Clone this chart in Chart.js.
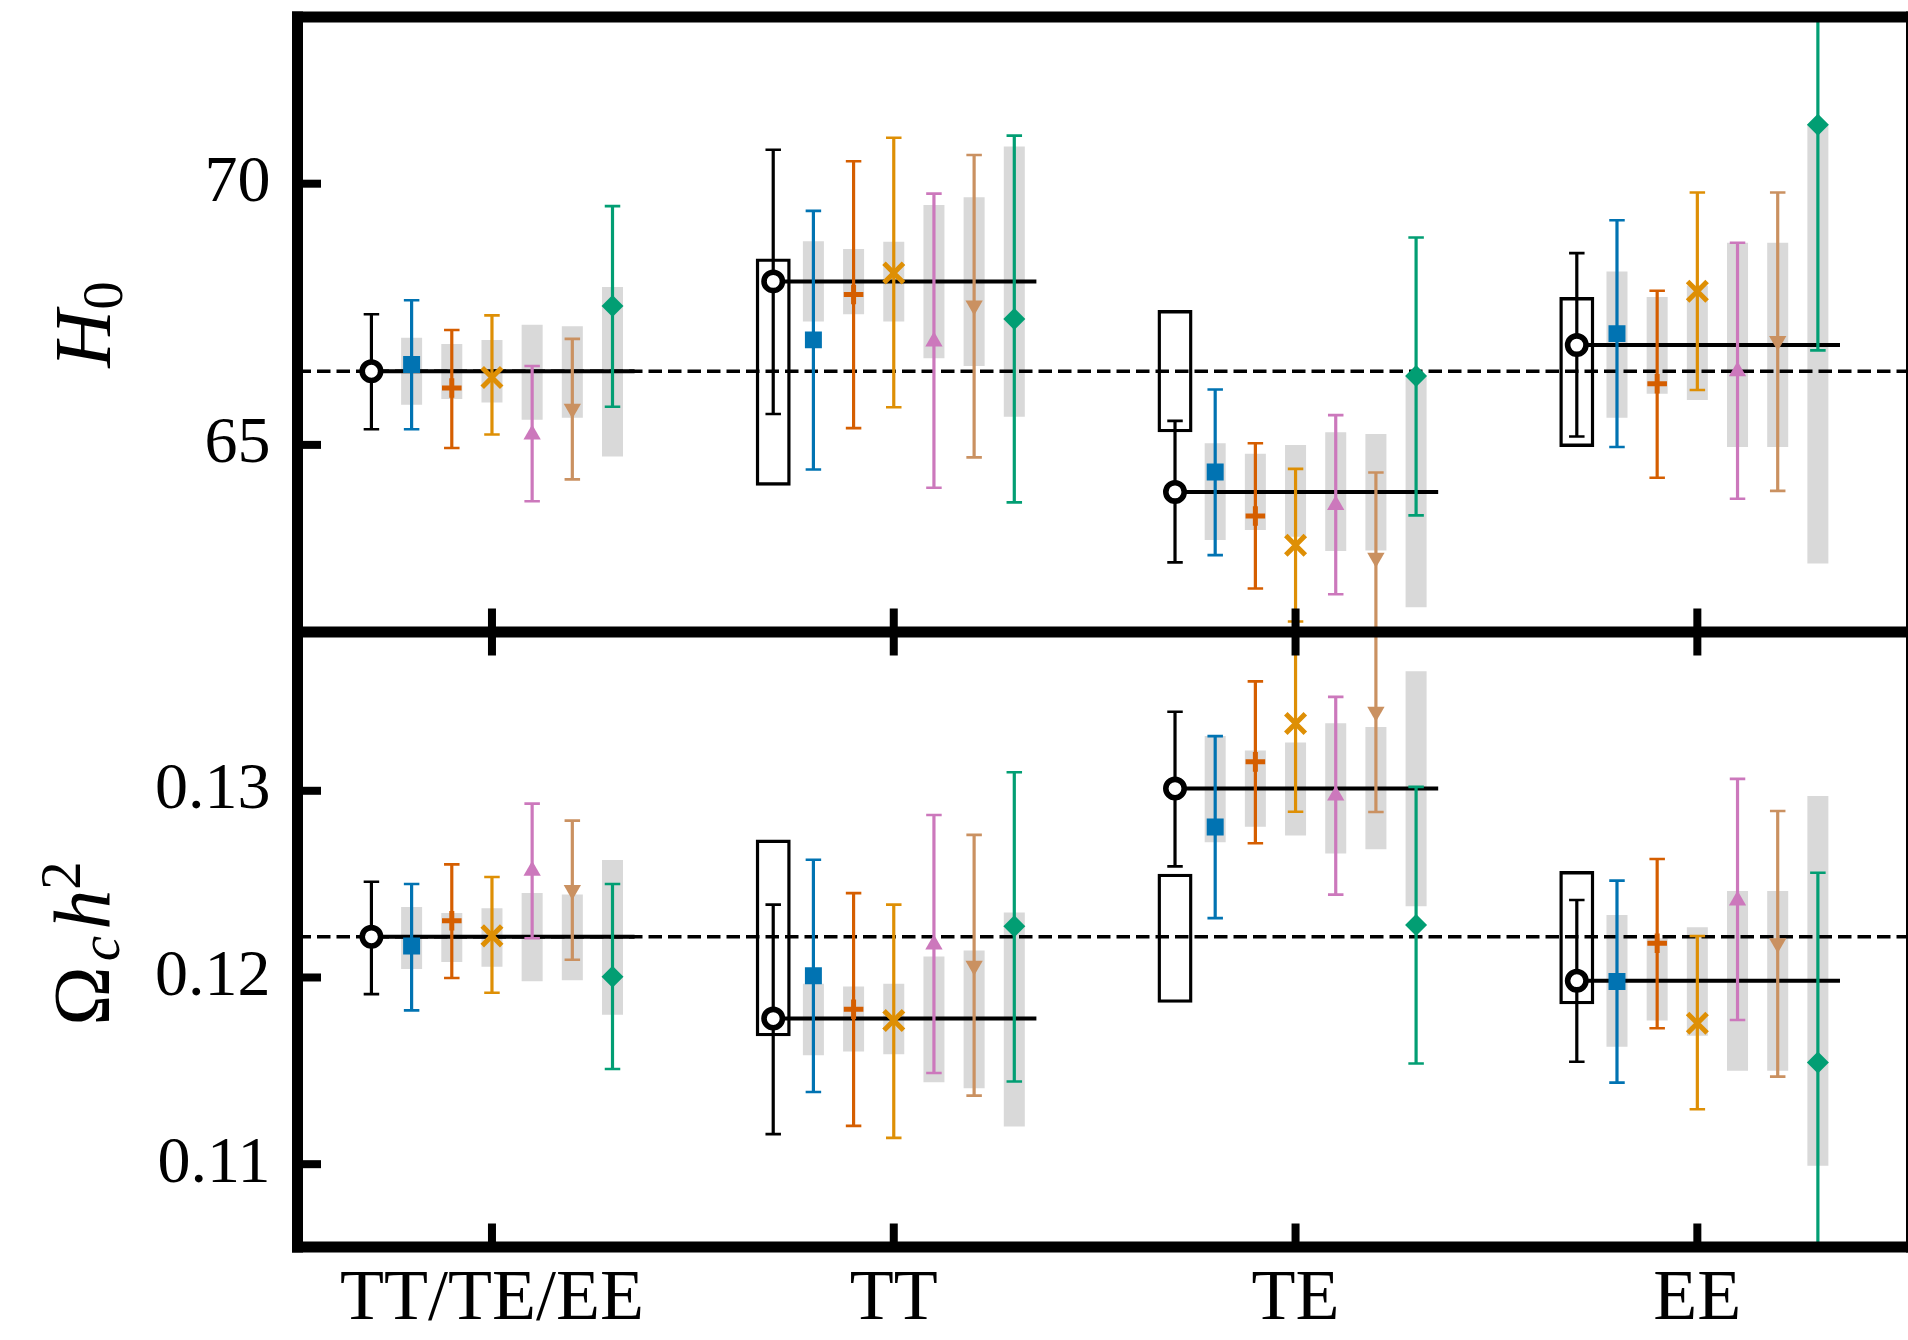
<!DOCTYPE html>
<html>
<head>
<meta charset="utf-8">
<style>
  html, body { margin: 0; padding: 0; overflow: hidden; background: #ffffff; }
  #plot { position: absolute; left: 0; top: 0; }
</style>
<script src="https://cdn.jsdelivr.net/npm/chart.js@4.4.1/dist/chart.umd.min.js"></script>
</head>
<body>
<canvas id="plot" width="1916" height="1340"></canvas>
<script>
// ---- categories and x placement ----
const groups = ['TT/TE/EE', 'TT', 'TE', 'EE'];
const offsets = [-0.3, -0.2, -0.1, 0, 0.1, 0.2, 0.3];
const xRange = [-0.484, 3.533];

// ---- axis ranges and tick labels ----
const h0Ticks = [65, 70];
const h0Range = [61.418, 73.191];
const omegaTicks = [0.11, 0.12, 0.13];
const omegaRange = [0.105564, 0.138505];

// Rows: reference (open circle), square, plus, cross, up-triangle, down-triangle, diamond.
// Columns follow `groups`.
const h0Value = [
  [66.41, 68.13, 64.10, 66.91],
  [66.54, 67.01, 64.48, 67.13],
  [66.09, 67.88, 63.64, 66.17],
  [66.29, 68.29, 63.08, 67.94],
  [65.20, 66.98, 63.85, 66.41],
  [65.69, 67.67, 62.84, 66.99],
  [67.66, 67.41, 66.32, 71.13]
];
const h0ErrLo = [
  [65.30, 65.59, 62.75, 65.16],
  [65.30, 64.53, 62.89, 64.96],
  [64.94, 65.32, 62.25, 64.37],
  [65.20, 65.72, 61.62, 66.05],
  [63.92, 64.18, 62.14, 63.97],
  [64.34, 64.76, 60.60, 64.12],
  [65.73, 63.90, 63.65, 66.81]
];
const h0ErrHi = [
  [67.50, 70.65, 65.46, 68.67],
  [67.77, 69.48, 66.06, 69.30],
  [67.20, 70.43, 65.03, 67.95],
  [67.48, 70.88, 64.54, 69.83],
  [66.51, 69.81, 65.57, 68.87],
  [67.03, 70.55, 64.47, 69.83],
  [69.57, 70.92, 68.97, 73.80]
];
const h0BandLo = [
  null,
  [65.77, 67.36, 63.18, 65.52],
  [65.88, 67.50, 63.37, 65.98],
  [65.81, 67.36, 63.24, 65.86],
  [65.48, 66.66, 62.97, 64.96],
  [65.52, 66.51, 62.98, 64.96],
  [64.78, 65.54, 61.89, 62.73]
];
const h0BandHi = [
  null,
  [67.05, 68.90, 65.03, 68.32],
  [66.93, 68.75, 64.83, 67.83],
  [67.01, 68.89, 65.00, 68.05],
  [67.30, 69.59, 65.24, 68.87],
  [67.27, 69.74, 65.21, 68.87],
  [68.02, 70.71, 66.31, 71.13]
];
const h0BoxLo = [null, 64.22, 65.24, 64.96];
const h0BoxHi = [null, 68.57, 67.58, 67.83];

const omegaValue = [
  [0.12218, 0.11780, 0.13012, 0.11983],
  [0.12169, 0.12009, 0.12806, 0.11978],
  [0.12304, 0.11830, 0.13155, 0.12183],
  [0.12223, 0.11770, 0.13360, 0.11755],
  [0.12572, 0.12176, 0.12975, 0.12413],
  [0.12469, 0.12063, 0.13423, 0.12183],
  [0.12004, 0.12275, 0.12281, 0.11544]
];
const omegaErrLo = [
  [0.11911, 0.11161, 0.12595, 0.11549],
  [0.11824, 0.11387, 0.12318, 0.11437],
  [0.11997, 0.11205, 0.12719, 0.11728],
  [0.11918, 0.11141, 0.12888, 0.11294],
  [0.12210, 0.11488, 0.12444, 0.11772],
  [0.12095, 0.11367, 0.12886, 0.11469],
  [0.11510, 0.11443, 0.11539, 0.10400]
];
const omegaErrHi = [
  [0.12513, 0.12390, 0.13423, 0.12415],
  [0.12501, 0.12631, 0.13293, 0.12519],
  [0.12606, 0.12452, 0.13586, 0.12635],
  [0.12538, 0.12390, 0.13834, 0.12222],
  [0.12931, 0.12870, 0.13503, 0.13064],
  [0.12840, 0.12764, 0.14000, 0.12892],
  [0.12501, 0.13099, 0.13021, 0.12561]
];
const omegaBandLo = [
  null,
  [0.12046, 0.11583, 0.12725, 0.11629],
  [0.12083, 0.11603, 0.12807, 0.11769],
  [0.12058, 0.11589, 0.12760, 0.11688],
  [0.11980, 0.11439, 0.12664, 0.11501],
  [0.11985, 0.11407, 0.12687, 0.11501],
  [0.11800, 0.11202, 0.12381, 0.10992]
];
const omegaBandHi = [
  null,
  [0.12378, 0.11967, 0.13293, 0.12335],
  [0.12346, 0.11952, 0.13216, 0.12210],
  [0.12371, 0.11967, 0.13259, 0.12269],
  [0.12452, 0.12112, 0.13362, 0.12463],
  [0.12444, 0.12144, 0.13341, 0.12463],
  [0.12629, 0.12348, 0.13640, 0.12972]
];
const omegaBoxLo = [null, 0.11685, 0.11864, 0.11856];
const omegaBoxHi = [null, 0.12739, 0.12556, 0.12570];

// ---- styling ----
const seriesColors = ['#000000', '#0173b2', '#d55e00', '#de8f05', '#cc78bc', '#ca9161', '#029e73'];
const markerStyles = [
  { pointStyle: 'circle',   radius: 9.2,  borderWidth: 5.6, fill: '#ffffff' },
  { pointStyle: 'rect',     radius: 12,   borderWidth: 0 },
  { pointStyle: 'cross',    radius: 9.8,  borderWidth: 5 },
  { pointStyle: 'crossRot', radius: 13.8, borderWidth: 5 },
  { pointStyle: 'triangle', radius: 10,   borderWidth: 0 },
  { pointStyle: 'triangle', radius: 10,   borderWidth: 0, rotation: 180 },
  { pointStyle: 'rectRot',  radius: 11,   borderWidth: 0 }
];
const SERIF = 'Liberation Serif';
const BAND_GREY = '#d9d9d9';
const SPINE = 11;
const TICK_LEN = 23.5;
const TICK_W = 8;

function buildPanel(axisID, value, errLo, errHi, bandLo, bandHi, boxLo, boxHi) {
  const sets = [];

  // grey bands behind each non-reference estimate
  const bands = [];
  for (let s = 1; s < value.length; s++) {
    groups.forEach((_, g) => {
      bands.push({ x: g + offsets[s], y: [bandLo[s][g], bandHi[s][g]] });
    });
  }
  sets.push({
    type: 'bar', yAxisID: axisID, data: bands, backgroundColor: BAND_GREY,
    borderWidth: 0, barThickness: 21, grouped: false, inflateAmount: 0, order: 50, clip: 0
  });

  // open boxes around the reference estimate
  const boxes = [];
  groups.forEach((_, g) => {
    if (boxLo[g] !== null) boxes.push({ x: g + offsets[0], y: [boxLo[g], boxHi[g]] });
  });
  sets.push({
    type: 'bar', yAxisID: axisID, data: boxes, backgroundColor: 'rgba(0,0,0,0)',
    borderColor: '#000000', borderWidth: 3.4, borderSkipped: false, barThickness: 35,
    grouped: false, inflateAmount: 0, order: 45, clip: 0
  });

  // dashed baseline across the full panel
  sets.push({
    type: 'line', yAxisID: axisID,
    data: [{ x: xRange[0], y: value[0][0] }, { x: xRange[1], y: value[0][0] }],
    borderColor: '#000000', borderWidth: 3.6, borderDash: [13.5, 6],
    pointRadius: 0, showLine: true, order: 40, clip: 0
  });

  // solid reference level inside each group
  const refLine = [];
  groups.forEach((_, g) => {
    refLine.push({ x: g + offsets[0], y: value[0][g] }, { x: g + 0.355, y: value[0][g] }, { x: g + 0.355, y: null });
  });
  sets.push({
    type: 'line', yAxisID: axisID, data: refLine, borderColor: '#000000', borderWidth: 4,
    pointRadius: 0, showLine: true, spanGaps: false, order: 35, clip: 0
  });

  // error bars with caps
  for (let s = 0; s < value.length; s++) {
    const pts = [];
    groups.forEach((_, g) => {
      const x = g + offsets[s];
      pts.push({ x, y: errLo[s][g] }, { x, y: errHi[s][g] }, { x, y: null });
    });
    sets.push({
      type: 'line', yAxisID: axisID, data: pts, borderColor: seriesColors[s], borderWidth: 3.2,
      pointStyle: 'line', pointRadius: 7.75, pointBorderWidth: 2.6,
      pointBorderColor: seriesColors[s], pointBackgroundColor: seriesColors[s],
      showLine: true, spanGaps: false, order: 20, clip: 0
    });
  }

  // central estimates
  for (let s = 0; s < value.length; s++) {
    const m = markerStyles[s];
    sets.push({
      type: 'line', yAxisID: axisID, showLine: false,
      data: groups.map((_, g) => ({ x: g + offsets[s], y: value[s][g] })),
      pointStyle: m.pointStyle, pointRadius: m.radius, pointBorderWidth: m.borderWidth,
      pointRotation: m.rotation || 0,
      pointBackgroundColor: m.fill || seriesColors[s], pointBorderColor: seriesColors[s],
      order: 10 - s * 0.1, clip: 0
    });
  }
  return sets;
}

// spines and inward tick marks
const framePlugin = {
  id: 'frame',
  afterDatasetsDraw(chart) {
    const ctx = chart.ctx;
    const xs = chart.scales.x, yH = chart.scales.yH, yW = chart.scales.yW;
    const left = xs.left, right = xs.right;
    const top = yH.top, mid = yH.bottom, bot = yW.bottom;
    const h = SPINE / 2;
    ctx.save();
    ctx.fillStyle = '#000000';
    [top, mid, bot].forEach(y => ctx.fillRect(left - h, y - h, right - left + SPINE, SPINE));
    [left, right].forEach(x => ctx.fillRect(x - h, top - h, SPINE, bot - top + SPINE));
    xs.ticks.forEach(t => {
      const px = xs.getPixelForValue(t.value);
      ctx.fillRect(px - TICK_W / 2, mid - TICK_LEN, TICK_W, TICK_LEN);
      ctx.fillRect(px - TICK_W / 2, mid, TICK_W, TICK_LEN);
      ctx.fillRect(px - TICK_W / 2, bot - TICK_LEN, TICK_W, TICK_LEN);
    });
    [yH, yW].forEach(sc => sc.ticks.forEach(t => {
      const py = sc.getPixelForValue(t.value);
      ctx.fillRect(left, py - TICK_W / 2, TICK_LEN, TICK_W);
    }));
    ctx.restore();
  }
};

// rotated y-axis titles with sub/superscripts
function drawRotatedTitle(ctx, baselineX, centerY, parts) {
  ctx.save();
  let total = 0;
  parts.forEach(p => {
    ctx.font = p.font;
    p.w = ctx.measureText(p.text).width;
    total += p.w + (p.gap || 0);
  });
  ctx.translate(baselineX, centerY);
  ctx.rotate(-Math.PI / 2);
  ctx.fillStyle = '#000000';
  ctx.textAlign = 'left';
  ctx.textBaseline = 'alphabetic';
  let x = -total / 2;
  parts.forEach(p => {
    x += p.gap || 0;
    ctx.font = p.font;
    ctx.fillText(p.text, x, p.dy);
    x += p.w;
  });
  ctx.restore();
}
const titlePlugin = {
  id: 'axisTitles',
  afterDraw(chart) {
    const ctx = chart.ctx;
    const yH = chart.scales.yH, yW = chart.scales.yW;
    drawRotatedTitle(ctx, 110, (yH.top + yH.bottom) / 2, [
      { text: 'H', font: `italic 80px "${SERIF}"`, dy: 0 },
      { text: '0', font: `57px "${SERIF}"`, dy: 12 }
    ]);
    drawRotatedTitle(ctx, 109, (yW.top + yW.bottom) / 2 + 4, [
      { text: 'Ω', font: `80px "${SERIF}"`, dy: 0 },
      { text: 'c', font: `italic 57px "${SERIF}"`, dy: 10, gap: 5 },
      { text: 'h', font: `italic 80px "${SERIF}"`, dy: 0, gap: 6 },
      { text: '2', font: `57px "${SERIF}"`, dy: -29 }
    ]);
  }
};

// keep the plot frame exactly where the layout padding puts it
function noScalePadding(sc) {
  sc.paddingTop = 0; sc.paddingBottom = 0; sc.paddingLeft = 0; sc.paddingRight = 0;
}

Chart.defaults.color = '#000000';
Chart.defaults.font.family = SERIF;

const datasets = [
  ...buildPanel('yH', h0Value, h0ErrLo, h0ErrHi, h0BandLo, h0BandHi, h0BoxLo, h0BoxHi),
  ...buildPanel('yW', omegaValue, omegaErrLo, omegaErrHi, omegaBandLo, omegaBandHi, omegaBoxLo, omegaBoxHi)
];

new Chart(document.getElementById('plot'), {
  type: 'line',
  data: { datasets },
  options: {
    responsive: false,
    devicePixelRatio: 1,
    animation: false,
    events: [],
    layout: { autoPadding: false, padding: { left: 0, right: 4.5, top: 17, bottom: 0 } },
    plugins: { legend: { display: false }, tooltip: { enabled: false } },
    scales: {
      x: {
        type: 'linear', position: 'bottom', min: xRange[0], max: xRange[1],
        offset: false, grace: 0,
        grid: { display: false, drawTicks: false, offset: false }, border: { display: false },
        afterBuildTicks: sc => { sc.ticks = groups.map((_, i) => ({ value: i })); },
        afterFit: sc => { sc.height = 93; noScalePadding(sc); },
        ticks: {
          autoSkip: false, maxRotation: 0, minRotation: 0, padding: 10, color: '#000000',
          font: { family: SERIF, size: 72 },
          callback: v => groups[Math.round(v)]
        }
      },
      yH: {
        type: 'linear', position: 'left', stack: 'panels', stackWeight: 1, weight: 1,
        min: h0Range[0], max: h0Range[1], beginAtZero: false, offset: false,
        grid: { display: false, drawTicks: false }, border: { display: false },
        afterBuildTicks: sc => { sc.ticks = h0Ticks.map(v => ({ value: v })); },
        afterFit: sc => { sc.width = 297.5; noScalePadding(sc); },
        ticks: { padding: 27, color: '#000000', font: { family: SERIF, size: 66 }, callback: v => String(v) }
      },
      yW: {
        type: 'linear', position: 'left', stack: 'panels', stackWeight: 1, weight: 0,
        min: omegaRange[0], max: omegaRange[1], beginAtZero: false, offset: false,
        grid: { display: false, drawTicks: false }, border: { display: false },
        afterBuildTicks: sc => { sc.ticks = omegaTicks.map(v => ({ value: v })); },
        afterFit: sc => { sc.width = 297.5; noScalePadding(sc); },
        ticks: { padding: 27, color: '#000000', font: { family: SERIF, size: 66 }, callback: v => v.toFixed(2) }
      }
    }
  },
  plugins: [framePlugin, titlePlugin]
});
</script>
</body>
</html>
